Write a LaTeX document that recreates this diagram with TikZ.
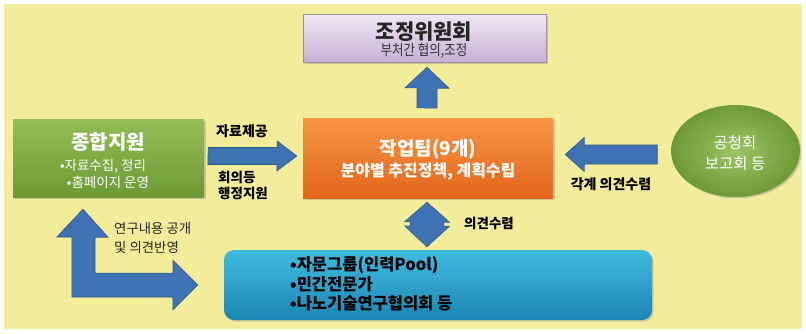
\documentclass[tikz,border=0pt]{standalone}
\usepackage{fontspec}
\usepackage{graphicx}
\setmainfont{Noto Sans CJK KR}
\usetikzlibrary{shapes.geometric,shadows,calc}
\definecolor{bgyellow}{HTML}{F3ED9B}
\definecolor{arrowblue}{HTML}{3F72B2}
\definecolor{arrowdark}{HTML}{2E5A8E}
\definecolor{lavtop}{HTML}{F1E8F3}
\definecolor{lavbot}{HTML}{C7AFD6}
\definecolor{grtop}{HTML}{93BE55}
\definecolor{grbot}{HTML}{6D9A34}
\definecolor{ortop}{HTML}{F79545}
\definecolor{orbot}{HTML}{E2661C}
\definecolor{bltop}{HTML}{3FBBE0}
\definecolor{blbot}{HTML}{1A86B3}
\tikzset{
  boxbase/.style={inner sep=0pt, drop shadow={shadow xshift=1.5pt, shadow yshift=-1.5pt, opacity=0.35}},
  barrow/.style={fill=arrowblue, draw=arrowdark, line width=0.6pt},
  txt/.style={inner sep=0pt},
  lbl/.style={font=\fontsize{13.5}{15}\selectfont\bfseries, text=black, inner sep=0pt},
}
\begin{document}
\begin{tikzpicture}[x=1pt,y=-1pt]
\useasboundingbox (0,0) rectangle (806,333);
\fill[white] (0,0) rectangle (806,333);
\fill[bgyellow] (4,4) rectangle (802,329);

% boxes
\node[boxbase, rectangle, minimum width=243pt, minimum height=48pt, top color=lavtop, bottom color=lavbot, draw=lavbot!80!black, line width=0.4pt] (top) at (424.5,38) {};
\node[boxbase, rectangle, minimum width=250pt, minimum height=80pt, top color=ortop, bottom color=orbot] (work) at (428,158) {};
\node[boxbase, rectangle, minimum width=191pt, minimum height=78pt, top color=grtop, bottom color=grbot] (supp) at (108.5,158) {};
\node[boxbase, ellipse, minimum width=129pt, minimum height=92pt, inner color=grtop!90!white, outer color=grbot] (hear) at (735.5,151) {};
\node[boxbase, rectangle, rounded corners=10pt, minimum width=428pt, minimum height=70pt, top color=bltop, bottom color=blbot] (pool) at (438,285) {};

% texts
\node[txt, text=black!85, font=\fontsize{21}{23}\selectfont\bfseries] (t1) at (424,32) {조정위원회};
\node[txt, text=black!80, font=\fontsize{12.5}{14}\selectfont] (t2) at (424,51) {\scalebox{1}[1.18]{부처간 협의,조정}};
\node[txt, text=white, font=\fontsize{19}{21}\selectfont\bfseries] (w1) at (428,149) {작업팀(9개)};
\node[txt, text=white, font=\fontsize{16}{18}\selectfont\bfseries] (w2) at (428,172) {분야별 추진정책, 계획수립};
\node[txt, text=white, font=\fontsize{20}{22}\selectfont\bfseries] (s1) at (108,142) {종합지원};
\node[txt, text=white, font=\fontsize{13.5}{15}\selectfont] (s2) at (103,166) {•자료수집, 정리};
\node[txt, text=white, font=\fontsize{13.5}{15}\selectfont] (s3) at (108,182) {•홈페이지 운영};
\node[txt, text=white, font=\fontsize{15.5}{17}\selectfont] (h1) at (735,142.5) {공청회};
\node[txt, text=white, font=\fontsize{15.5}{17}\selectfont] (h2) at (735,164) {보고회 등};
\node[txt, anchor=west, text=black, font=\fontsize{16.5}{18}\selectfont\bfseries] (p1) at (290,265) {•자문그룹(인력Pool)};
\node[txt, anchor=west, text=black, font=\fontsize{16.5}{18}\selectfont\bfseries] (p2) at (290,284) {•민간전문가};
\node[txt, anchor=west, text=black, font=\fontsize{16.5}{18}\selectfont\bfseries] (p3) at (290,303.5) {•나노기술연구협의회 등};

% labels
\node[lbl, font=\fontsize{14}{16}\selectfont\bfseries] (l1) at (242,131.5) {자료제공};
\node[lbl, anchor=west, align=left, font=\fontsize{13.5}{16.5}\selectfont\bfseries] (l2) at (218,185.5) {회의등\\행정지원};
\node[lbl, font=\fontsize{14}{16}\selectfont\bfseries] (l3) at (611,184) {각계 의견수렴};
\node[lbl, font=\fontsize{13.5}{15}\selectfont\bfseries] (l4) at (489,223.5) {의견수렴};
\node[lbl, anchor=west, align=left, font=\fontsize{13.4}{19}\selectfont, text=black!85] (l5) at (114,237.5) {연구내용 공개\\및 의견반영};

% up arrow work -> top
\coordinate (ua) at ($(work.north)+(-1,-10)$);
\coordinate (ub) at ($(top.south)+(2.5,5)$);
\draw[barrow] (ua) ++(-10,0) -- ++(0,-20) -- ++(-12,0) -- (ub) -- ++(22,21) -- ++(-12,0) -- ++(0,20) -- cycle;

% right arrow supp -> work
\coordinate (ra) at ($(supp.east)+(4,-2)$);
\coordinate (rb) at ($(work.west)+(-6,-2)$);
\draw[barrow] (ra) ++(0,-8.5) -- ++(69,0) -- ++(0,-6.5) -- (rb) -- ++(-20,15) -- ++(0,-6.5) -- ++(-69,0) -- cycle;

% left arrow hear -> work
\coordinate (lb) at ($(work.east)+(12,-3.5)$);
\draw[barrow] (lb) -- ++(19,-17) -- ++(0,7.5) -- ++(73,0) -- ++(0,19) -- ++(-73,0) -- ++(0,7.5) -- cycle;

% double arrow work <-> pool
\coordinate (da) at ($(work.south)+(-1,4)$);
\coordinate (db) at ($(pool.north)+(-11,-3)$);
\draw[barrow] (da) -- ++(22.5,20) -- ++(-6,0) -- ++(0,4) -- ++(6,0) -- (db) -- ++(-22.5,-21) -- ++(6,0) -- ++(0,-4) -- ++(-6,0) -- cycle;

% L arrow supp -> pool
\coordinate (lt) at ($(supp.south)+(-25.5,12)$);
\coordinate (lr) at ($(pool.west)+(-26,0)$);
\draw[barrow] (lt) -- ++(25,28) -- ++(-13,0) -- ++(0,36) -- ++(78,0) -- ++(0,-13) -- (lr) -- ++(-25,25) -- ++(0,-13) -- ++(-101,0) -- ++(0,-60) -- ++(-15,0) -- cycle;
\end{tikzpicture}
\end{document}
